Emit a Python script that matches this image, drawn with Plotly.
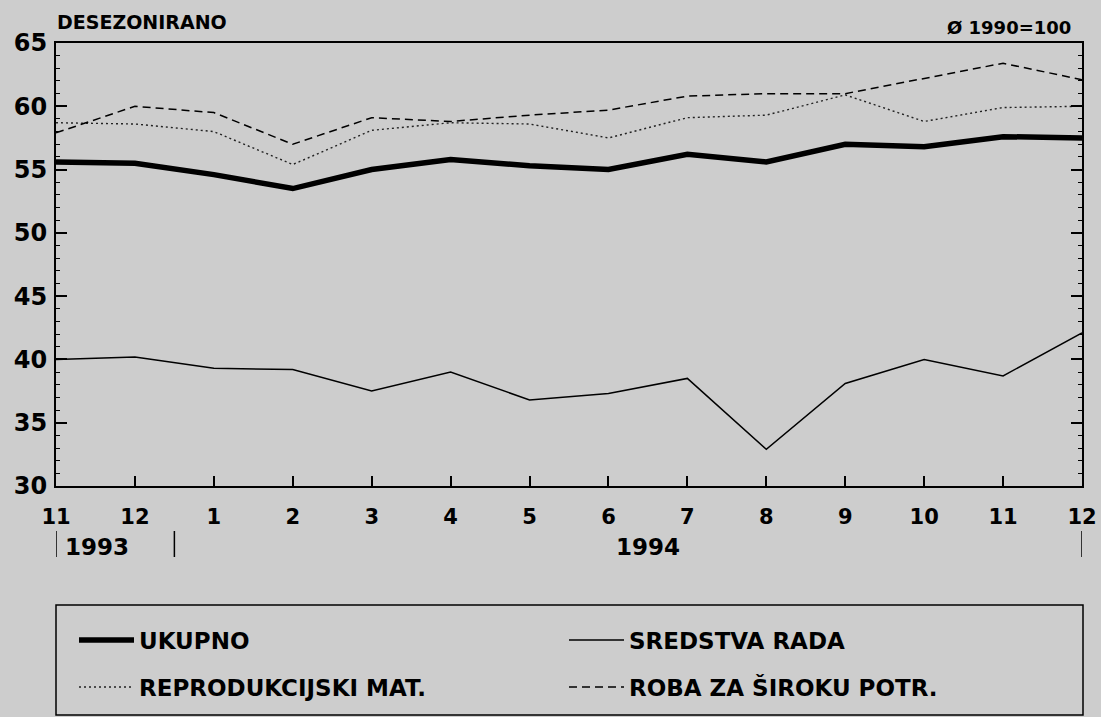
import plotly.graph_objects as go

# ---- data ----
months = ["11", "12", "1", "2", "3", "4", "5", "6", "7", "8", "9", "10", "11", "12"]
ukupno = [55.6, 55.5, 54.6, 53.5, 55.0, 55.8, 55.3, 55.0, 56.2, 55.6, 57.0, 56.8, 57.6, 57.5]
sredstva_rada = [40.0, 40.2, 39.3, 39.2, 37.5, 39.0, 36.8, 37.3, 38.5, 32.9, 38.1, 40.0, 38.7, 42.1]
reprodukcijski = [58.7, 58.6, 58.0, 55.4, 58.1, 58.7, 58.6, 57.5, 59.1, 59.3, 60.9, 58.8, 59.9, 60.0]
roba_sirokoj = [57.9, 60.0, 59.5, 57.0, 59.1, 58.8, 59.3, 59.7, 60.8, 61.0, 61.0, 62.2, 63.4, 62.1]
y_ticks = [30, 35, 40, 45, 50, 55, 60, 65]

x = list(range(len(months)))

W, H = 1101, 717
L, R, T, B = 56, 19, 43, 231
pw, ph = W - L - R, H - T - B

def px_x(p):
    return (p - L) / pw

def px_y(p):
    return (H - B - p) / ph

FONT = "DejaVu Sans"
BG = "#cdcdcd"

fig = go.Figure()
fig.add_trace(go.Scatter(x=x, y=ukupno, mode="lines", name="UKUPNO",
                         line=dict(color="black", width=5.5), legend="legend"))
fig.add_trace(go.Scatter(x=x, y=sredstva_rada, mode="lines", name="SREDSTVA RADA",
                         line=dict(color="black", width=1.5), legend="legend"))
fig.add_trace(go.Scatter(x=x, y=reprodukcijski, mode="lines", name="REPRODUKCIJSKI MAT.",
                         line=dict(color="#222222", width=1.4, dash="2px,3px"), legend="legend2"))
fig.add_trace(go.Scatter(x=x, y=roba_sirokoj, mode="lines", name="ROBA ZA ŠIROKU POTR.",
                         line=dict(color="black", width=1.5, dash="8px,5px"), legend="legend2"))

legend_common = dict(
    orientation="h", xanchor="left", yanchor="middle",
    bgcolor="rgba(0,0,0,0)", borderwidth=0,
    font=dict(family=FONT, size=23, color="black", weight="bold"),
    entrywidth=420, entrywidthmode="pixels", itemwidth=55,
)

fig.update_layout(
    width=W, height=H,
    margin=dict(l=L, r=R, t=T, b=B, pad=0, autoexpand=False),
    paper_bgcolor=BG, plot_bgcolor=BG,
    showlegend=True,
    legend=dict(x=px_x(74), y=px_y(640), **legend_common),
    legend2=dict(x=px_x(74), y=px_y(687), **legend_common),
    xaxis=dict(
        range=[0, 13], tickvals=x, ticktext=months,
        showgrid=False, zeroline=False,
        showline=True, linecolor="black", linewidth=2, mirror=True,
        ticks="inside", ticklen=10, tickwidth=1.5, tickcolor="black",
        tickfont=dict(family=FONT, size=21, color="black", weight="bold"),
        ticklabelstandoff=11,
    ),
    yaxis=dict(
        range=[30, 65], tickvals=y_ticks,
        showgrid=False, zeroline=False,
        showline=True, linecolor="black", linewidth=2, mirror="ticks",
        ticks="inside", ticklen=11, tickwidth=1.5, tickcolor="black",
        minor=dict(dtick=1, ticks="inside", ticklen=4, tickwidth=1, tickcolor="black"),
        tickfont=dict(family=FONT, size=24, color="black", weight="bold"),
        ticklabelstandoff=2,
    ),
    font=dict(family=FONT, color="black"),
)

ann_font = dict(family=FONT, size=19, color="black", weight="bold")
fig.add_annotation(text="DESEZONIRANO", xref="paper", yref="paper", x=px_x(55), y=px_y(22),
                   xanchor="left", yanchor="middle", showarrow=False, font=ann_font)
fig.add_annotation(text="Ø 1990=100", xref="paper", yref="paper", x=px_x(1073), y=px_y(27),
                   xanchor="right", yanchor="middle", showarrow=False,
                   font=dict(family=FONT, size=18, color="black", weight="bold"))

year_font = dict(family=FONT, size=23, color="black", weight="bold")
fig.add_annotation(text="1993", xref="paper", yref="paper", x=px_x(97), y=px_y(547),
                   xanchor="center", yanchor="middle", showarrow=False, font=year_font)
fig.add_annotation(text="1994", xref="paper", yref="paper", x=px_x(648), y=px_y(547),
                   xanchor="center", yanchor="middle", showarrow=False, font=year_font)

# year separators below the axis
for xv in [0, 1.5, 13]:
    fig.add_shape(type="line", xref="x", yref="paper", x0=xv, x1=xv,
                  y0=px_y(531), y1=px_y(557), line=dict(color="black", width=1.5))

# legend frame
fig.add_shape(type="rect", xref="paper", yref="paper",
              x0=px_x(56), x1=px_x(1083), y0=px_y(605), y1=px_y(715),
              line=dict(color="black", width=1.5), fillcolor="rgba(0,0,0,0)")

fig.write_html("out.html",
               config={"displayModeBar": False},
               post_script="document.body.style.margin='0';document.body.style.overflow='hidden';")
